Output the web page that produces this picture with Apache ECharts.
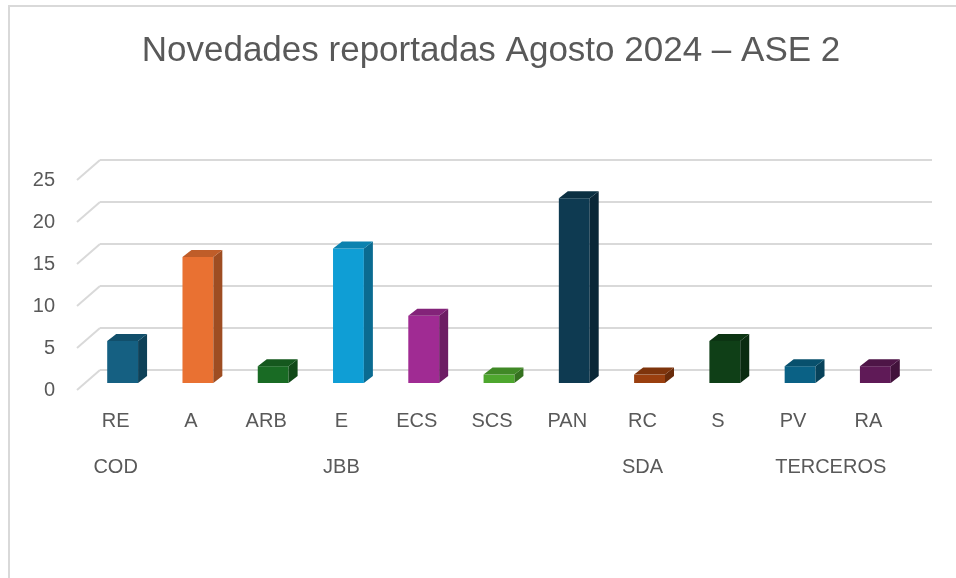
<!DOCTYPE html>
<html>
<head>
<meta charset="utf-8">
<script src="https://cdn.jsdelivr.net/npm/echarts@6/dist/echarts.min.js"></script>
<style>
  html, body { margin: 0; padding: 0; background: #fff; }
  #chart { width: 956px; height: 578px; }
</style>
</head>
<body>
<div id="chart"></div>
<script>
// datos
const categories = ['RE', 'A', 'ARB', 'E', 'ECS', 'SCS', 'PAN', 'RC', 'S', 'PV', 'RA'];
const values = [5, 15, 2, 16, 8, 1, 22, 1, 5, 2, 2];
const groups = ['COD', 'JBB', 'SDA', 'TERCEROS'];
const groupSizes = [1, 5, 3, 2];
const yTicks = [0, 5, 10, 15, 20, 25];
const barColors = ['#156082', '#e97132', '#196b24', '#0f9ed5', '#a02b93', '#4ea72e',
  '#0e3a51', '#9a3f0f', '#0f3f17', '#0a6185', '#5f1a57'];

const FONT = 'Liberation Sans';
const TEXT = '#595959';
const GRID_LINE = '#d9d9d9';

// centro de cada grupo (en indice de categoria)
const groupCenters = [];
let start = 0;
groupSizes.forEach(n => { groupCenters.push(start + (n - 1) / 2); start += n; });

// oscurece un color hex multiplicando sus canales
function shade(hex, f) {
  const n = parseInt(hex.slice(1), 16);
  const r = Math.round(((n >> 16) & 255) * f);
  const g = Math.round(((n >> 8) & 255) * f);
  const b = Math.round((n & 255) * f);
  return 'rgb(' + r + ',' + g + ',' + b + ')';
}

const chart = echarts.init(document.getElementById('chart'));

function renderBar(params, api) {
  const i = api.value(0);
  const v = api.value(1);
  const base = api.coord([i, 0]);
  const top = api.coord([i, v]);
  const w = api.size([1, 0])[0] * 0.41;
  const x0 = base[0] - w / 2, x1 = base[0] + w / 2;
  const dx = 9, dy = 7;
  const c = barColors[i];
  const side = shade(c, 0.68);
  const topc = shade(c, 0.82);
  return {
    type: 'group',
    children: [
      { type: 'rect', shape: { x: x0, y: top[1], width: w, height: base[1] - top[1] }, style: { fill: c } },
      { type: 'polygon', shape: { points: [[x1, top[1]], [x1 + dx, top[1] - dy], [x1 + dx, base[1] - dy], [x1, base[1]]] }, style: { fill: side } },
      { type: 'polygon', shape: { points: [[x0, top[1]], [x0 + dx, top[1] - dy], [x1 + dx, top[1] - dy], [x1, top[1]]] }, style: { fill: topc } }
    ]
  };
}

function renderDiag(params, api) {
  const p = api.coord([0, api.value(1)]);
  return {
    type: 'line',
    shape: { x1: p[0], y1: p[1], x2: p[0] + 23, y2: p[1] - 20 },
    style: { stroke: GRID_LINE, lineWidth: 2 }
  };
}

const option = {
  animation: false,
  title: {
    text: 'Novedades reportadas Agosto 2024 – ASE 2',
    left: 486,
    top: 29,
    textAlign: 'center',
    textStyle: { fontFamily: FONT, fontSize: 35, fontWeight: 'normal', color: TEXT }
  },
  graphic: [{
    type: 'rect',
    shape: { x: 9, y: 6, width: 1000, height: 1000 },
    style: { fill: 'none', stroke: GRID_LINE, lineWidth: 2 }
  }],
  grid: [
    // plano del fondo (lineas de la cuadricula)
    { left: 100, right: 24, top: 160, bottom: 208 },
    // plano de las barras
    { left: 85, right: 43, top: 173, bottom: 195 },
    // plano frontal (etiquetas del eje y)
    { left: 77, right: 47, top: 180, bottom: 188 }
  ],
  xAxis: [
    { gridIndex: 0, type: 'value', min: 0, max: 1, show: false },
    {
      gridIndex: 1, type: 'category', data: categories,
      axisLine: { show: false }, axisTick: { show: false },
      axisLabel: { margin: 28, fontFamily: FONT, fontSize: 20, color: TEXT, padding: [0, 14, 0, 0] }
    },
    {
      gridIndex: 1, type: 'value', min: -0.5, max: 10.5, position: 'bottom',
      axisLine: { show: false }, axisTick: { show: false }, splitLine: { show: false },
      axisLabel: {
        customValues: groupCenters,
        margin: 74, fontFamily: FONT, fontSize: 20, color: TEXT, padding: [0, 14, 0, 0],
        formatter: v => groups[groupCenters.indexOf(v)] || ''
      }
    },
    { gridIndex: 2, type: 'value', min: 0, max: 1, show: false }
  ],
  yAxis: [
    {
      gridIndex: 0, type: 'value', min: 0, max: 25, interval: 5,
      axisLine: { show: false }, axisTick: { show: false }, axisLabel: { show: false },
      splitLine: { lineStyle: { color: GRID_LINE, width: 2 } }
    },
    { gridIndex: 1, type: 'value', min: 0, max: 25, interval: 5, show: false },
    {
      gridIndex: 2, type: 'value', min: 0, max: 25, interval: 5,
      axisLine: { show: false }, axisTick: { show: false }, splitLine: { show: false },
      axisLabel: { margin: 22, fontFamily: FONT, fontSize: 20, color: TEXT }
    }
  ],
  series: [
    {
      type: 'custom', xAxisIndex: 3, yAxisIndex: 2,
      renderItem: renderDiag,
      data: yTicks.map(v => [0, v])
    },
    {
      type: 'custom', xAxisIndex: 1, yAxisIndex: 1,
      renderItem: renderBar,
      data: values.map((v, i) => [i, v])
    }
  ]
};

chart.setOption(option);
</script>
</body>
</html>
